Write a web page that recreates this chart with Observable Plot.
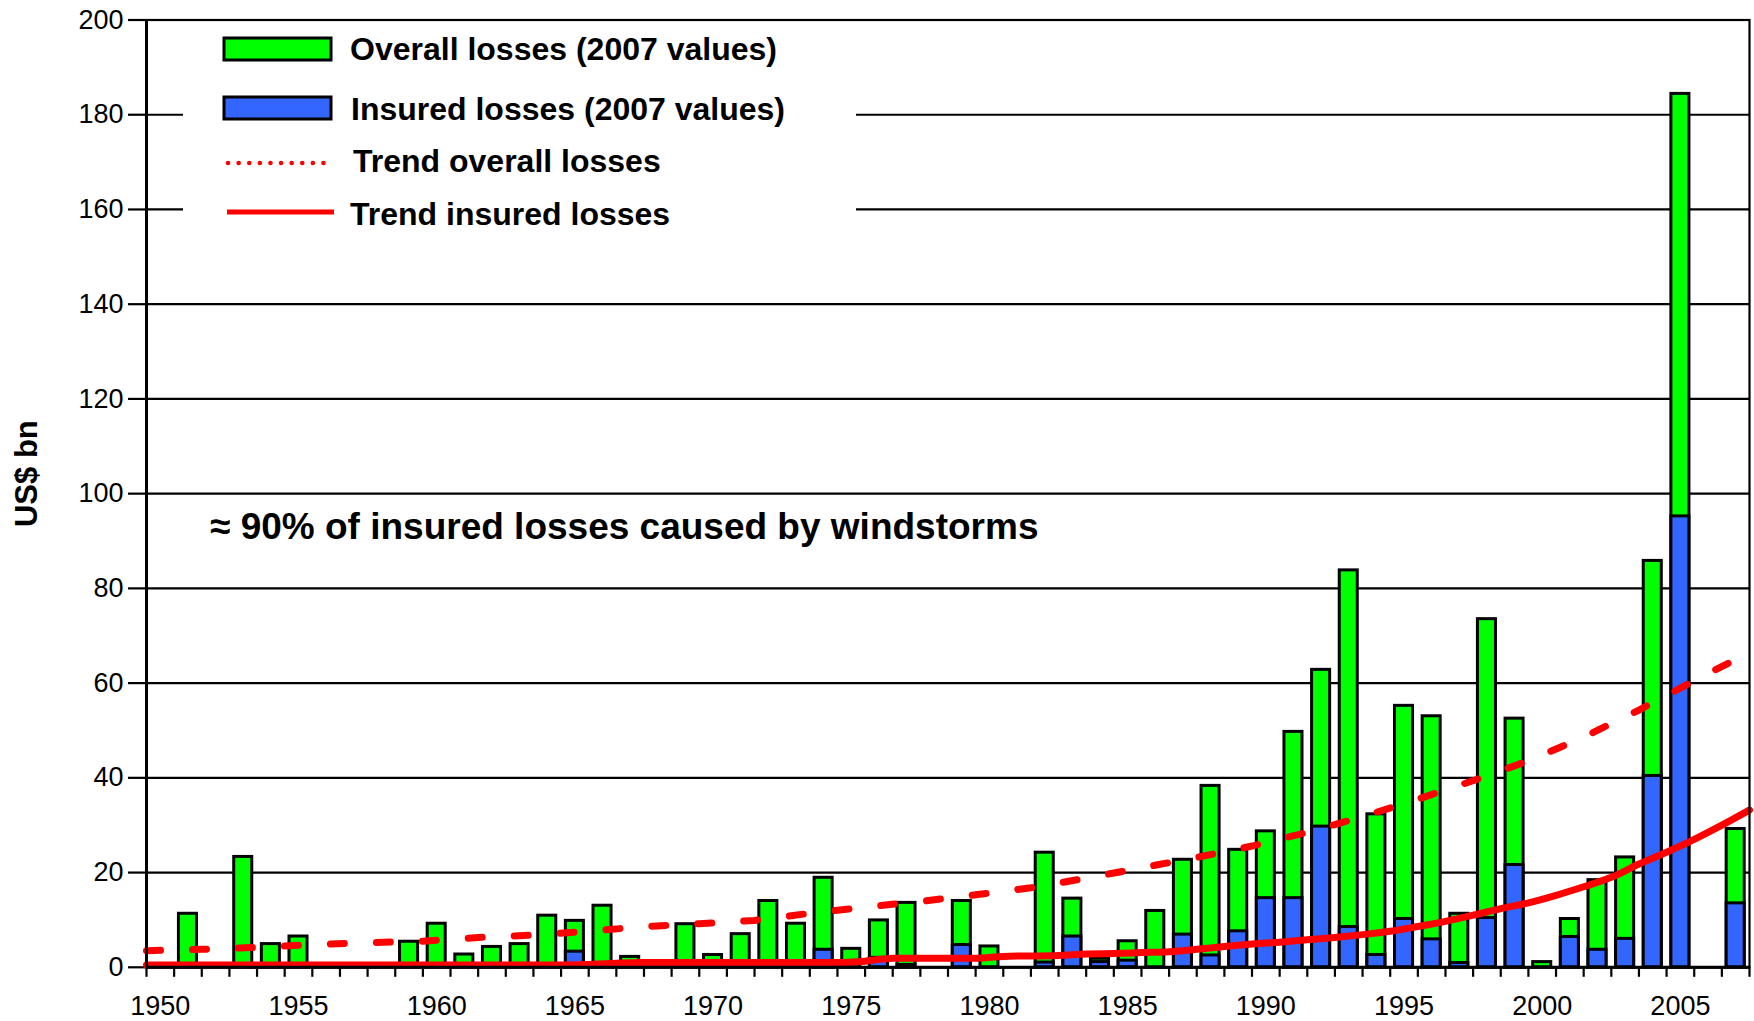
<!DOCTYPE html>
<html>
<head>
<meta charset="utf-8">
<script src="https://cdn.jsdelivr.net/npm/d3@7"></script>
<script src="https://cdn.jsdelivr.net/npm/@observablehq/plot@0.6"></script>
<style>
  html, body { margin: 0; padding: 0; background: #fff; }
  #chart svg { display: block; }
</style>
</head>
<body>
<div id="chart"></div>
<script>
// ---- data ----
const years = [1950,1951,1952,1953,1954,1955,1956,1957,1958,1959,
  1960,1961,1962,1963,1964,1965,1966,1967,1968,1969,
  1970,1971,1972,1973,1974,1975,1976,1977,1978,1979,
  1980,1981,1982,1983,1984,1985,1986,1987,1988,1989,
  1990,1991,1992,1993,1994,1995,1996,1997,1998,1999,
  2000,2001,2002,2003,2004,2005,2006,2007];
const overallLosses = [0,11.3,0,23.3,4.9,6.5,0,0,0,5.4,
  9.2,2.7,4.3,4.9,10.9,9.8,13.0,2.2,0,9.1,
  2.6,7.0,14.0,9.2,18.9,3.9,9.9,13.6,0,14.0,
  4.4,0,24.2,14.5,1.8,5.5,11.9,22.7,38.3,24.8,
  28.7,49.7,62.8,83.8,32.3,55.2,53.0,11.3,73.5,52.5,
  1.1,10.2,18.4,23.2,85.8,184.4,0,29.2];
const insuredLosses = [0,0,0,0,0,0,0,0,0,0,
  0,0,0,0,0,3.3,0,0,0,0,
  0,0,0,0,3.7,0,2.0,0.5,0,4.7,
  0,0,1.0,6.5,1.1,1.4,0,6.9,2.5,7.6,
  14.6,14.6,29.7,8.5,2.6,10.2,5.9,0.9,10.4,21.6,
  0,6.4,3.7,6.0,40.4,95.2,0,13.5];

const trendOverallX = [1950,1952,1954,1956,1958,1960,1962,1964,1966,1968,1970,1972,1974,1976,1978,1980,1982,1984,1986,1988,1990,1992,1994,1996,1998,2000,2002,2004,2006,2008];
const trendOverallY = [3.5,3.8,4.2,4.8,5.2,5.5,6.3,6.8,7.6,8.6,9.2,9.9,11.4,12.7,13.9,15.3,16.8,18.8,21.0,23.2,25.6,28.5,31.8,35.5,39.4,43.6,48.6,54.3,60.5,66.5];

const trendInsuredX = [1950,1955,1960,1965,1966,1968,1970,1975,1976,1977,1980,1981,1983,1984,1985,1986,1987,1988,1989,1990,1991,1992,1993,1994,1995,1996,1997,1998,1999,2000,2001,2002,2003,2004,2005,2006,2007,2008];
const trendInsuredY = [0.5,0.5,0.5,0.5,0.6,1.0,1.0,1.0,1.3,1.9,1.9,2.3,2.5,2.8,2.9,3.1,3.3,3.8,4.4,4.9,5.3,5.8,6.3,6.9,7.6,8.6,9.7,11.0,12.4,13.6,15.2,17.0,19.0,21.8,24.3,27.0,30.0,33.2];

const yTicks = [0,20,40,60,80,100,120,140,160,180,200];
const xLabelYears = [1950,1955,1960,1965,1970,1975,1980,1985,1990,1995,2000,2005];
const xTickYears = years.concat([2008]);

const legendItems = ["Overall losses (2007 values)", "Insured losses (2007 values)", "Trend overall losses", "Trend insured losses"];
const annotation = ["≈ 90% of insured losses caused by windstorms"];
const annotationPos = {x: 1952.3, y: 93};
const yTitle = ["US$ bn"];

const GREEN = "#00ff00", BLUE = "#3366ff", RED = "#ff0000";

// ---- tables ----
const bars = years.map((y, i) => ({year: y, overall: overallLosses[i], insured: insuredLosses[i]}));
const trendO = trendOverallX.map((x, i) => ({x, y: trendOverallY[i]}));
const trendI = trendInsuredX.map((x, i) => ({x, y: trendInsuredY[i]}));

const W = 1754, H = 1021;
const plot = Plot.plot({
  width: W, height: H,
  marginLeft: 146, marginRight: 5, marginTop: 19.5, marginBottom: 54.2,
  style: {fontFamily: "'Liberation Sans', Arial, sans-serif", color: "#000", background: "#fff"},
  x: {type: "linear", domain: [1950, 2008]},
  y: {domain: [0, 200]},
  marks: [
    Plot.gridY(yTicks, {stroke: "#000", strokeOpacity: 1, strokeWidth: 2.2}),
    Plot.axisY(yTicks, {tickSize: 18, tickPadding: 5, fontSize: 27, strokeWidth: 2.2, label: null}),
    Plot.axisX(xTickYears, {tickSize: 10, tickFormat: () => "", strokeWidth: 2.2, label: null}),
    Plot.text(xLabelYears, {x: d => d + 0.5, y: 0, text: d => String(d), dy: 39, fontSize: 27, lineAnchor: "middle", textAnchor: "middle"}),
    Plot.rectY(bars.filter(d => d.overall > 0), {x1: "year", x2: d => d.year + 1, y: "overall", fill: GREEN, stroke: "#000", strokeWidth: 3, insetLeft: 4.8, insetRight: 4.8}),
    Plot.rectY(bars.filter(d => d.insured > 0), {x1: "year", x2: d => d.year + 1, y: "insured", fill: BLUE, stroke: "#000", strokeWidth: 3, insetLeft: 4.8, insetRight: 4.8}),
    Plot.line(trendO, {x: "x", y: "y", stroke: RED, strokeWidth: 7, strokeDasharray: "14,32", curve: "linear"}),
    Plot.line(trendI, {x: "x", y: "y", stroke: RED, strokeWidth: 7, curve: "monotone-x"}),
    Plot.frame({stroke: "#000", strokeWidth: 2.2}),
    Plot.ruleX([1950], {stroke: "#000", strokeWidth: 3}),
    Plot.ruleY([0], {stroke: "#000", strokeWidth: 3}),
    Plot.text(annotation, {x: () => annotationPos.x, y: () => annotationPos.y, textAnchor: "start", fontSize: 37, fontWeight: "bold"}),
    Plot.text(yTitle, {frameAnchor: "left", textAnchor: "middle", dx: -119, dy: -20, rotate: -90, fontSize: 31, fontWeight: "bold"})
  ]
});
document.getElementById("chart").appendChild(plot);

// ---- legend inside the plot area (white box covering gridlines) ----
const svg = d3.select(plot);
const lg = svg.append("g")
  .attr("font-family", "'Liberation Sans', Arial, sans-serif")
  .attr("font-weight", "bold").attr("font-size", 32).attr("text-anchor", "start");
lg.append("rect").attr("x", 183).attr("y", 25).attr("width", 673).attr("height", 212).attr("fill", "#fff");
const rowsY = [49, 108.5, 161, 214];
lg.append("rect").attr("x", 224).attr("y", 38).attr("width", 107).attr("height", 22).attr("fill", GREEN).attr("stroke", "#000").attr("stroke-width", 3);
lg.append("rect").attr("x", 224).attr("y", 97).attr("width", 107).attr("height", 22).attr("fill", BLUE).attr("stroke", "#000").attr("stroke-width", 3);
lg.append("line").attr("x1", 228).attr("x2", 328).attr("y1", 163).attr("y2", 163).attr("stroke", RED).attr("stroke-width", 4.5).attr("stroke-linecap", "round").attr("stroke-dasharray", "0.1,10.5");
lg.append("line").attr("x1", 227).attr("x2", 334).attr("y1", 212).attr("y2", 212).attr("stroke", RED).attr("stroke-width", 5);
const textX = [350, 351, 353, 350];
legendItems.forEach((t, i) => {
  lg.append("text").attr("x", textX[i]).attr("y", rowsY[i]).attr("dy", "0.35em").attr("fill", "#000").attr("text-anchor", "start").text(t);
});
</script>
</body>
</html>
